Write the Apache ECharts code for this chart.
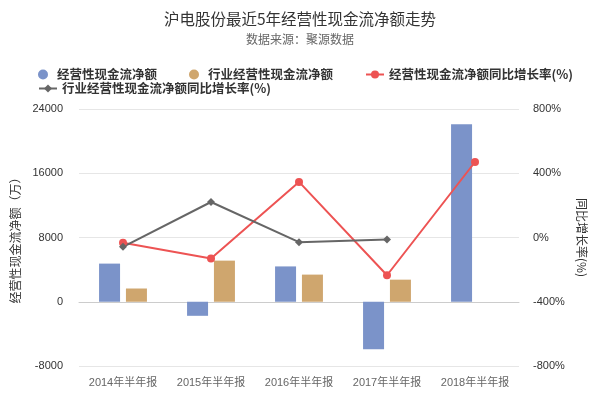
<!DOCTYPE html>
<html><head><meta charset="utf-8">
<script src="https://cdn.jsdelivr.net/npm/echarts@6/dist/echarts.min.js"></script>
<style>html,body{margin:0;padding:0;background:#fff}#c{width:600px;height:400px}</style>
</head><body><div id="c"></div>
<script>
var categories = ['2014年半年报','2015年半年报','2016年半年报','2017年半年报','2018年半年报'];
var cashFlow = [4750, -1750, 4400, -5900, 22100];
var industryCashFlow = [1650, 5120, 3380, 2750, null];
var cashFlowYoY = [-33, -131, 346, -235, 470];
var industryYoY = [-58, 221, -29, -12, null];
var leftTicks = {min: -8000, max: 24000, interval: 8000};
var rightTicks = {min: -800, max: 800, interval: 400};

var chart = echarts.init(document.getElementById('c'));
var ff = '"Noto Sans CJK SC", "Noto Sans", sans-serif';
var af = '"Liberation Sans", "Noto Sans CJK SC", sans-serif';
var legendText = {fontSize: 12.5, color: '#333', fontWeight: 'bold', fontFamily: ff, lineHeight: 13};
chart.setOption({
  textStyle: {fontFamily: ff},
  title: {
    text: '沪电股份最近5年经营性现金流净额走势',
    subtext: '数据来源：聚源数据',
    left: 'center', top: 6,
    textStyle: {fontSize: 15.5, color: '#333', fontWeight: 'normal', fontFamily: ff},
    subtextStyle: {fontSize: 12, color: '#666', fontFamily: ff},
    itemGap: 7
  },
  legend: [{
    top: 63, left: 33, itemGap: 32, itemWidth: 18, itemHeight: 10,
    textStyle: legendText,
    data: [
      {name: '经营性现金流净额', icon: 'circle'},
      {name: '行业经营性现金流净额', icon: 'circle'},
      {name: '经营性现金流净额同比增长率(%)'}
    ]
  }, {
    top: 77, left: 33, itemWidth: 18, itemHeight: 10,
    textStyle: legendText,
    data: [{name: '行业经营性现金流净额同比增长率(%)'}]
  }],
  grid: {left: 79, right: 81, top: 109, bottom: 34},
  xAxis: {
    type: 'category', data: categories,
    axisLine: {lineStyle: {color: '#ccc'}},
    axisTick: {lineStyle: {color: '#ccc'}, length: 8},
    axisLabel: {color: '#666', fontSize: 11, margin: 11, interval: 0, fontFamily: af}
  },
  yAxis: [{
    type: 'value', min: leftTicks.min, max: leftTicks.max, interval: leftTicks.interval,
    name: '经营性现金流净额（万）', nameLocation: 'middle', nameGap: 46, nameRotate: 90,
    nameTextStyle: {color: '#333', fontSize: 12},
    axisLine: {show: false}, axisTick: {show: false},
    axisLabel: {color: '#333', fontSize: 11, margin: 16, fontFamily: af, formatter: function (v) { return String(v); }},
    splitLine: {lineStyle: {color: '#e6e6e6'}}
  }, {
    type: 'value', min: rightTicks.min, max: rightTicks.max, interval: rightTicks.interval,
    name: '同比增长率(%)', nameLocation: 'middle', nameGap: 52, nameRotate: -90,
    nameTextStyle: {color: '#333', fontSize: 12},
    axisLine: {show: false}, axisTick: {show: false},
    axisLabel: {color: '#333', fontSize: 11, margin: 14, fontFamily: af, formatter: '{value}%'},
    splitLine: {show: false}
  }],
  series: [{
    name: '经营性现金流净额', type: 'bar', data: cashFlow, barWidth: 21, barGap: '28%',
    itemStyle: {color: '#7b93c9'}
  }, {
    name: '行业经营性现金流净额', type: 'bar', data: industryCashFlow, barWidth: 21,
    itemStyle: {color: '#cfa66e'}
  }, {
    name: '经营性现金流净额同比增长率(%)', type: 'line', yAxisIndex: 1, data: cashFlowYoY,
    symbol: 'circle', symbolSize: 8, itemStyle: {color: '#ed5353'}, lineStyle: {width: 2, color: '#ed5353'}
  }, {
    name: '行业经营性现金流净额同比增长率(%)', type: 'line', yAxisIndex: 1, data: industryYoY,
    symbol: 'diamond', symbolSize: 8, itemStyle: {color: '#666'}, lineStyle: {width: 2, color: '#666'}
  }]
});
</script></body></html>
